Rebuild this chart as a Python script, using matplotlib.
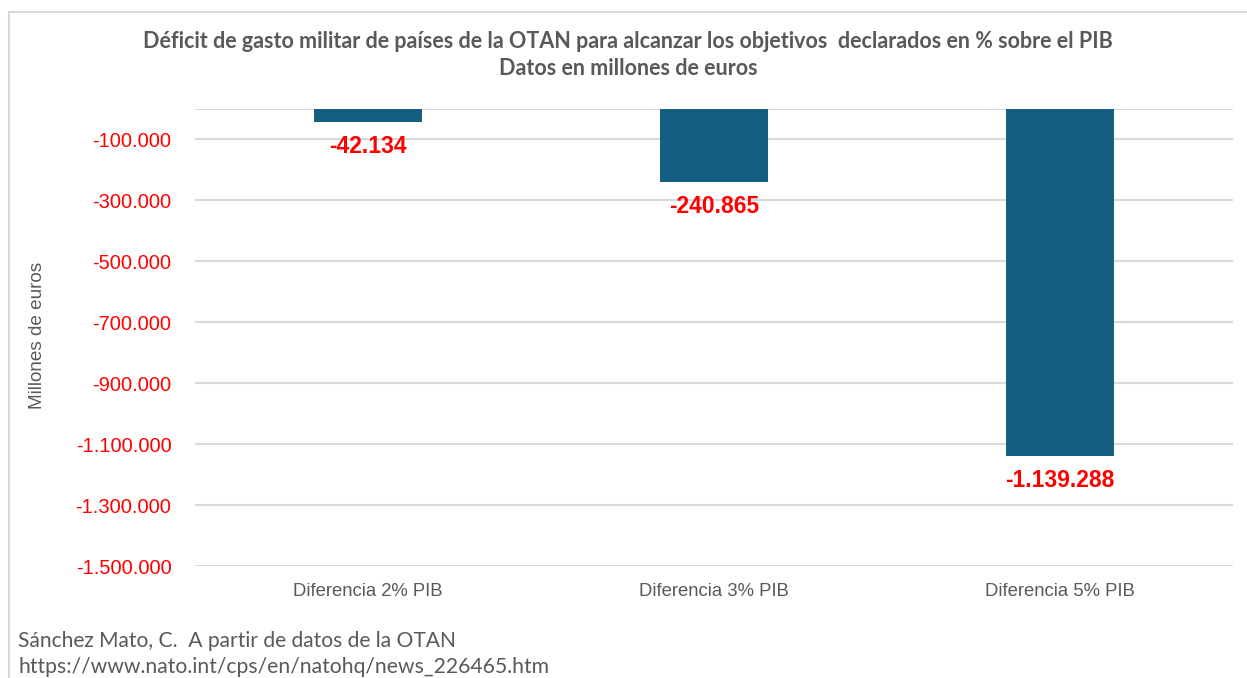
import matplotlib.pyplot as plt
from matplotlib.patches import Rectangle
from matplotlib.ticker import FuncFormatter


# Chart data

categories = ['Diferencia 2% PIB', 'Diferencia 3% PIB', 'Diferencia 5% PIB']
deficits = [-42134, -240865, -1139288]
y_ticks = [-1500000, -1300000, -1100000, -900000, -700000, -500000, -300000, -100000]

title = ('Déficit de gasto militar de países de la OTAN para alcanzar los objetivos  declarados en % sobre el PIB\n'
         'Datos en millones de euros')
source_lines = ['Sánchez Mato, C.  A partir de datos de la OTAN',
                'https://www.nato.int/cps/en/natohq/news_226465.htm']

BAR_COLOR = '#175F80'
GRID_COLOR = '#D9D9D9'
TEXT_GRAY = '#595959'


def es_thousands(v, pos=None):
    # Spanish style: dot as thousands separator
    s = f'{abs(int(round(v))):,}'.replace(',', '.')
    return ('-' if v < 0 else '') + s


def main():
    W, H = 1247, 678
    fig = plt.figure(figsize=(W / 100, H / 100), dpi=100)

    # light frame around the chart (clipped on the right and bottom)
    fig.patches.append(Rectangle((9 / W, -0.1), 1.2, 1 - 12 / H + 0.1,
                                 transform=fig.transFigure, fill=False,
                                 edgecolor=GRID_COLOR, linewidth=1.5))

    left, right, top, bottom = 195, 1233, 109, 566
    ax = fig.add_axes([left / W, 1 - bottom / H, (right - left) / W, (bottom - top) / H])

    x = list(range(len(categories)))
    ax.bar(x, deficits, width=0.315, color=BAR_COLOR, zorder=3)

    for xi, v in zip(x, deficits):
        ax.annotate(es_thousands(v), (xi, v), xytext=(0, -17.5), textcoords='offset points',
                    ha='center', va='center', color='#FF0000', fontsize=16.5,
                    fontweight='bold', family='Liberation Sans')

    ax.set_xlim(-0.5, len(categories) - 0.5)
    ax.set_ylim(-1500000, 0)
    ax.set_yticks(y_ticks)
    ax.yaxis.set_major_formatter(FuncFormatter(es_thousands))
    ax.set_xticks(x)
    ax.set_xticklabels(categories)

    ax.grid(axis='y', color=GRID_COLOR, linewidth=1.5, zorder=0)
    ax.axhline(0, color=GRID_COLOR, linewidth=1.5, zorder=1)
    for s in ax.spines.values():
        s.set_visible(False)
    ax.tick_params(axis='y', length=0, pad=17, labelcolor='#FF0000', labelsize=14.5)
    ax.tick_params(axis='x', length=0, pad=12, labelcolor=TEXT_GRAY, labelsize=13.3)
    for lab in ax.get_yticklabels() + ax.get_xticklabels():
        lab.set_family('Liberation Sans')

    fig.text(38 / W, 1 - 335 / H, 'Millones de euros', rotation=90, ha='center', va='center',
             color=TEXT_GRAY, fontsize=13.6, family='Liberation Sans')

    fig.text(628 / W, 1 - 55 / H, title, ha='center', va='center', color=TEXT_GRAY,
             fontsize=15.5, fontweight='bold', family='Lato', linespacing=1.3)

    fig.text(18 / W, 1 - 641 / H, source_lines[0], ha='left', va='center',
             color=TEXT_GRAY, fontsize=15.1, family='Lato')
    fig.text(18 / W, 1 - 667 / H, source_lines[1], ha='left', va='center',
             color=TEXT_GRAY, fontsize=15.2, family='Lato')

    fig.savefig('out.png', dpi=100, facecolor='white')


if __name__ == '__main__':
    main()
